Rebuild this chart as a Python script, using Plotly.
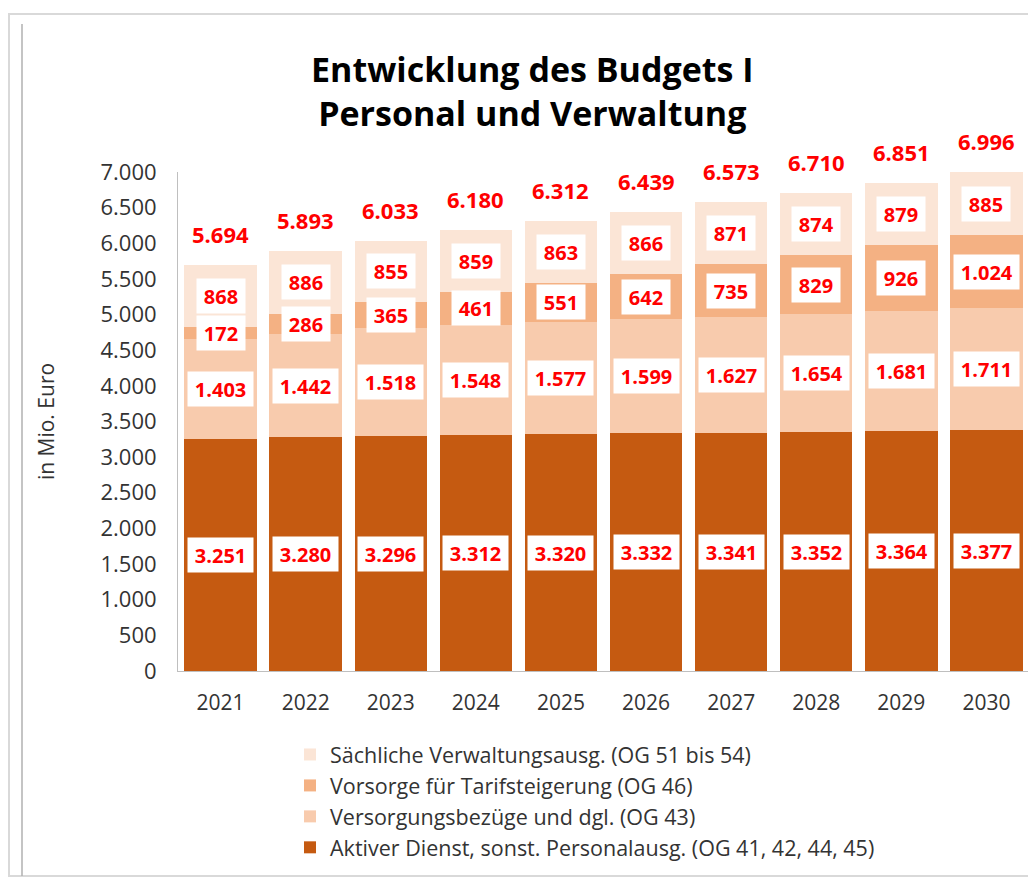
import plotly.graph_objects as go

years = ["2021", "2022", "2023", "2024", "2025", "2026", "2027", "2028", "2029", "2030"]
aktiver = [3251, 3280, 3296, 3312, 3320, 3332, 3341, 3352, 3364, 3377]
versorgung = [1403, 1442, 1518, 1548, 1577, 1599, 1627, 1654, 1681, 1711]
tarif = [172, 286, 365, 461, 551, 642, 735, 829, 926, 1024]
saechlich = [868, 886, 855, 859, 863, 866, 871, 874, 879, 885]
totals = [5694, 5893, 6033, 6180, 6312, 6439, 6573, 6710, 6851, 6996]

series = [
    ("Aktiver Dienst, sonst. Personalausg. (OG 41, 42, 44, 45)", aktiver, "#C55A11"),
    ("Versorgungsbezüge und dgl. (OG 43)", versorgung, "#F8CBAD"),
    ("Vorsorge für Tarifsteigerung (OG 46)", tarif, "#F4B183"),
    ("Sächliche Verwaltungsausg. (OG 51 bis 54)", saechlich, "#FBE5D6"),
]

FONT = "Open Sans"
TS = "\u2009"

# plot area in window pixels (page body has an 8px offset)
PL, PR, PT, PB = 178, 1029, 172, 671
PW, PH = PR - PL, PB - PT


def fmt(v):
    return f"{v:,}".replace(",", ".")


def px(xw):
    return (xw - PL) / PW


def py(yw):
    return (PB - yw) / PH


fig = go.Figure()
for name, vals, color in series:
    fig.add_trace(go.Bar(x=years, y=vals, name=name, marker=dict(color=color, line=dict(width=0))))

annotations = []
base = [0] * len(years)
for name, vals, color in series:
    for i, v in enumerate(vals):
        annotations.append(dict(
            x=i, y=base[i] + v / 2, xref="x", yref="y", text=f"<b>{TS}{fmt(v)}{TS}</b>",
            showarrow=False, bgcolor="white", borderpad=3.5,
            font=dict(family=FONT, size=20, color="#FF0000")))
        base[i] += v

for i, t in enumerate(totals):
    annotations.append(dict(
        x=i, y=t, xref="x", yref="y", text=f"<b>{fmt(t)}</b>", showarrow=False,
        yanchor="bottom", yshift=14, font=dict(family=FONT, size=22, color="#FF0000")))

W, H = 1028, 874
fig.update_layout(
    width=W, height=H,
    barmode="stack", bargap=0.15,
    paper_bgcolor="white", plot_bgcolor="white",
    margin=dict(l=PL - 8, r=W - (PR - 8), t=PT - 8, b=H - (PB - 8), autoexpand=False),
    font=dict(family=FONT, color="#333333"),
    title=dict(text="<b>Entwicklung des Budgets I<br>Personal und Verwaltung</b>",
               x=0.51, xanchor="center", y=0.915, yanchor="top",
               font=dict(family=FONT, size=34, color="black")),
    xaxis=dict(type="category", range=[-0.5, 9.5], showline=True, linecolor="#BFBFBF",
               linewidth=1, ticks="",
               tickfont=dict(family=FONT, size=21, color="#333333"), ticklabelstandoff=13),
    yaxis=dict(range=[0, 7000], dtick=500, showgrid=False, zeroline=False, showline=True,
               linecolor="#BFBFBF", linewidth=1, ticks="",
               tickformat=",d", tickfont=dict(family=FONT, size=22, color="#333333"),
               ticklabelstandoff=16,
               title=dict(text="in Mio. Euro", font=dict(family=FONT, size=21, color="#333333"),
                          standoff=40)),
    separators=",.",
    legend=dict(traceorder="reversed", orientation="v", x=px(290), xanchor="left",
                y=py(734), yanchor="top", font=dict(family=FONT, size=21.5, color="#333333"),
                itemwidth=30, tracegroupgap=0, bgcolor="rgba(0,0,0,0)"),
    annotations=annotations,
    shapes=[
        dict(type="rect", xref="paper", yref="paper",
             x0=px(9), x1=px(1040), y0=py(876), y1=py(14),
             line=dict(color="#D9D9D9", width=2), fillcolor="rgba(0,0,0,0)", layer="below"),
        dict(type="line", xref="paper", yref="paper",
             x0=px(22), x1=px(22), y0=py(876), y1=py(24),
             line=dict(color="#B0B0B0", width=1.5), layer="below"),
    ],
)

fig.write_html("out.html")
